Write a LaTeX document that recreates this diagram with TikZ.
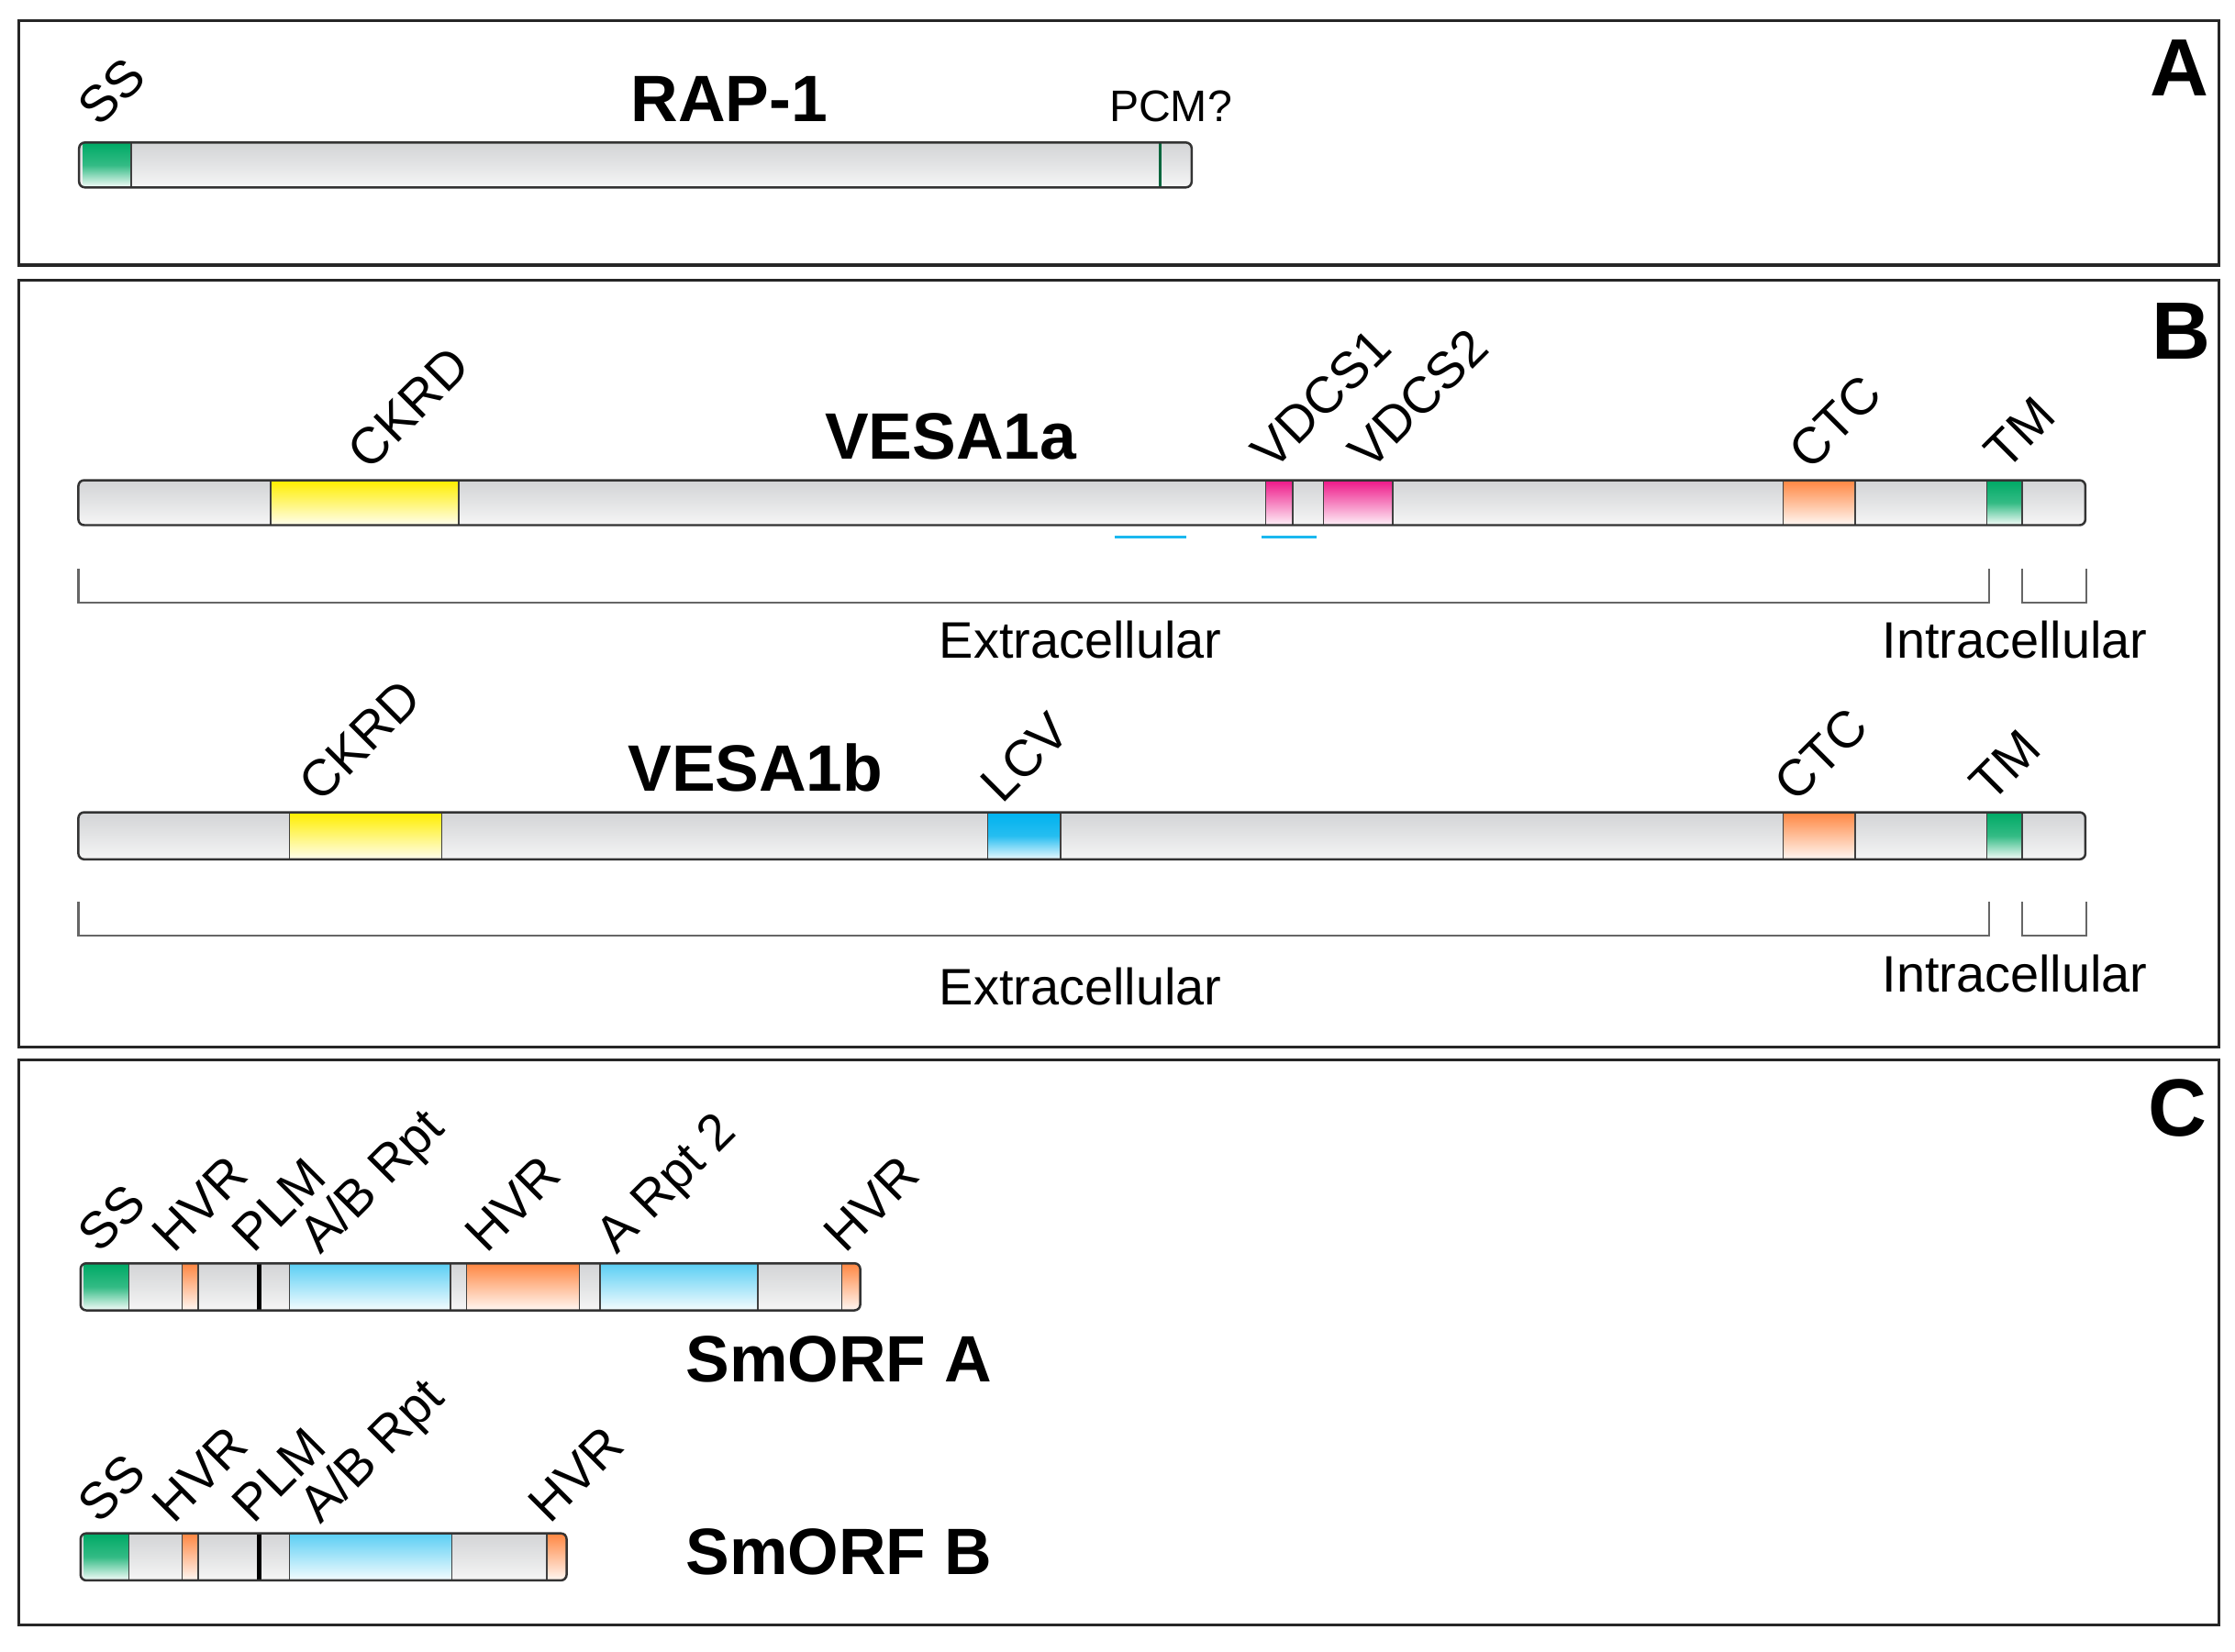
\documentclass[tikz,border=0pt]{standalone}
\usepackage{fontspec}
\setmainfont{Liberation Sans}
\definecolor{barTop}{HTML}{D3D4D6}
\definecolor{barMid}{HTML}{E3E4E5}
\definecolor{barBot}{HTML}{F6F6F6}
\definecolor{sgreen}{HTML}{00AA66}
\definecolor{syellow}{HTML}{FFEE00}
\definecolor{smag}{HTML}{EE1A8A}
\definecolor{sorange}{HTML}{FF8844}
\definecolor{scyan}{HTML}{00B2EE}
\definecolor{sblue}{HTML}{5CCFF4}
\definecolor{uline}{HTML}{1AB8EF}
\begin{document}
\begin{tikzpicture}[x=1pt,y=-1pt]
\tikzset{
  panel/.style={draw=black!85, line width=2pt},
  lab/.style={font=\fontsize{36}{40}\selectfont, rotate=45, anchor=base west, inner sep=0pt},
  ttl/.style={font=\bfseries\fontsize{46}{50}\selectfont, anchor=base, inner sep=0pt},
  letter/.style={font=\bfseries\fontsize{57}{60}\selectfont, anchor=base, inner sep=0pt},
  cell/.style={font=\fontsize{36}{40}\selectfont, anchor=base, inner sep=0pt},
  barfill/.style={top color=barTop, bottom color=barBot, middle color=barMid, rounded corners=4pt},
  barline/.style={draw=black!80, line width=1.6pt, rounded corners=4pt},
  sepline/.style={draw=black!75, line width=1pt},
  greenseg/.style={top color=sgreen, bottom color=sgreen!6!white, middle color=sgreen!80!white},
  yellowseg/.style={top color=syellow, bottom color=syellow!8!white},
  magseg/.style={top color=smag, bottom color=smag!8!white},
  orangeseg/.style={top color=sorange, bottom color=sorange!8!white},
  cyanseg/.style={top color=scyan, bottom color=scyan!10!white, middle color=scyan!85!white},
  blueseg/.style={top color=sblue, bottom color=sblue!8!white},
  brk/.style={draw=black!60, line width=1.5pt},
  uln/.style={draw=uline, line width=2pt}
}
\useasboundingbox (0,0) rectangle (1568,1159);
\fill[white] (0,0) rectangle (1568,1159);

% ---------------- Panel A ----------------
\draw[panel] (13,14.5) rectangle (1557,186);
\node[letter] (letA) at (1529,67) {A};
\path[barfill] (55.5,100) rectangle (836,131.5);
\path[greenseg] (58,100.5) rectangle (92,131);
\draw[sepline] (92,100) -- (92,131.5);
\draw[draw=sgreen!60!black, line width=1.5pt] (814,100) -- (814,131.5);
\draw[barline] (55.5,100) rectangle (836,131.5);
\node[lab] (aSS) at (70,90) {SS};
\node[ttl] (aT) at (511.5,85) {RAP-1};
\node[font=\fontsize{31}{34}\selectfont, anchor=base west, inner sep=0pt] (aPCM) at (778,85) {PCM?};

% ---------------- Panel B ----------------
\draw[panel] (13,196.5) rectangle (1557,734.5);
\node[letter] (letB) at (1530,252) {B};

% VESA1a
\path[barfill] (55,337) rectangle (1463,368.5);
\path[yellowseg] (190,337.5) rectangle (322,368);
\path[magseg] (888,337.5) rectangle (907,368);
\path[magseg] (928.5,337.5) rectangle (977,368);
\path[orangeseg] (1251,337.5) rectangle (1301.5,368);
\path[greenseg] (1394,337.5) rectangle (1418.5,368);
\foreach \xx in {190,322,888,907,928.5,977,1251,1301.5,1394,1418.5}
  \draw[sepline] (\xx,337) -- (\xx,368.5);
\draw[barline] (55,337) rectangle (1463,368.5);
\draw[uln] (782,377) -- (832.5,377);
\draw[uln] (885,377) -- (923.5,377);
\node[lab] (b1ck) at (259,331) {CKRD};
\node[lab] (b1v1) at (893,331) {VDCS1};
\node[lab] (b1v2) at (961,331) {VDCS2};
\node[lab] (b1ctc) at (1270,331) {CTC};
\node[lab] (b1tm) at (1407,331) {TM};
\node[ttl] (b1T) at (667,322) {VESA1a};
\draw[brk] (55,399) -- (55,422.7) -- (1395.6,422.7) -- (1395.6,399);
\draw[brk] (1418.7,399) -- (1418.7,422.7) -- (1463.7,422.7) -- (1463.7,399);
\node[cell] (b1ex) at (758,462) {Extracellular};
\node[cell] (b1in) at (1413.5,462) {Intracellular};

% VESA1b
\path[barfill] (55,570) rectangle (1463,603);
\path[yellowseg] (203,570.5) rectangle (310,602.5);
\path[cyanseg] (693,570.5) rectangle (744,602.5);
\path[orangeseg] (1251,570.5) rectangle (1301.5,602.5);
\path[greenseg] (1394,570.5) rectangle (1418.5,602.5);
\foreach \xx in {203,310,693,744,1251,1301.5,1394,1418.5}
  \draw[sepline] (\xx,570) -- (\xx,603);
\draw[barline] (55,570) rectangle (1463,603);
\node[lab] (b2ck) at (225,564.5) {CKRD};
\node[lab] (b2lcv) at (703,565) {LCV};
\node[lab] (b2ctc) at (1260,564.5) {CTC};
\node[lab] (b2tm) at (1397,564.5) {TM};
\node[ttl] (b2T) at (530,555) {VESA1b};
\draw[brk] (55,633) -- (55,656.6) -- (1395.6,656.6) -- (1395.6,633);
\draw[brk] (1418.7,633) -- (1418.7,656.6) -- (1463.7,656.6) -- (1463.7,633);
\node[cell] (b2ex) at (758,705) {Extracellular};
\node[cell] (b2in) at (1413.5,696) {Intracellular};

% ---------------- Panel C ----------------
\draw[panel] (13,744) rectangle (1557,1140);
\node[letter] (letC) at (1528,797) {C};

% SmORF A
\path[barfill] (56.5,886.5) rectangle (603.5,919.5);
\path[greenseg] (59,887) rectangle (90.3,919);
\path[orangeseg] (127.8,887) rectangle (139,919);
\path[blueseg] (203.2,887) rectangle (316,919);
\path[orangeseg] (327.4,887) rectangle (406.4,919);
\path[blueseg] (420.8,887) rectangle (531.5,919);
\path[orangeseg] (590.6,887) rectangle (603,919);
\foreach \xx in {90.3,127.8,139,203.2,316,327.4,406.4,420.8,531.5,590.6}
  \draw[sepline] (\xx,886.5) -- (\xx,919.5);
\draw[black, line width=3pt] (182,886.5) -- (182,919.5);
\draw[barline] (56.5,886.5) rectangle (603.5,919.5);
\node[lab] (caSS) at (70,880.5) {SS};
\node[lab] (caH1) at (122,880.5) {HVR};
\node[lab] (caPLM) at (178,880.5) {PLM};
\node[lab] (caAB) at (225,881) {A/B Rpt};
\node[lab] (caH2) at (341.5,880.5) {HVR};
\node[lab] (caA2) at (433,881) {A Rpt 2};
\node[lab] (caH3) at (593,880.5) {HVR};
\node[ttl, anchor=base west] (caT) at (481,970) {SmORF A};

% SmORF B
\path[barfill] (56.5,1076) rectangle (397.5,1109);
\path[greenseg] (59,1076.5) rectangle (90.3,1108.5);
\path[orangeseg] (127.8,1076.5) rectangle (139,1108.5);
\path[blueseg] (203.2,1076.5) rectangle (317,1108.5);
\path[orangeseg] (383.8,1076.5) rectangle (397,1108.5);
\foreach \xx in {90.3,127.8,139,203.2,317,383.8}
  \draw[sepline] (\xx,1076) -- (\xx,1109);
\draw[black, line width=3pt] (182,1076) -- (182,1109);
\draw[barline] (56.5,1076) rectangle (397.5,1109);
\node[lab] (cbSS) at (70,1070) {SS};
\node[lab] (cbH1) at (122,1070) {HVR};
\node[lab] (cbPLM) at (178,1070) {PLM};
\node[lab] (cbAB) at (225,1070.5) {A/B Rpt};
\node[lab] (cbH2) at (386,1070) {HVR};
\node[ttl, anchor=base west] (cbT) at (481,1105) {SmORF B};
\end{tikzpicture}
\end{document}
